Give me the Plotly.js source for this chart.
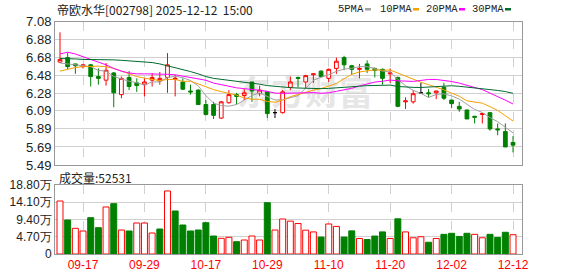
<!DOCTYPE html>
<html>
<head>
<meta charset="utf-8">
<script src="https://cdn.plot.ly/plotly-3.0.1.min.js"></script>
<style>
html,body{margin:0;padding:0;background:#fff;}
#chart{width:578px;height:276px;}
</style>
</head>
<body>
<div id="chart"></div>
<script>
// ---- data ----
const dates = ['09-12','09-15','09-16','09-17','09-18','09-19','09-22','09-23','09-24','09-25','09-26','09-29','09-30',
  '10-09','10-10','10-13','10-14','10-15','10-16','10-17','10-20','10-21','10-22','10-23','10-24','10-27','10-28','10-29','10-30','10-31',
  '11-03','11-04','11-05','11-06','11-07','11-10','11-11','11-12','11-13','11-14','11-17','11-18','11-19','11-20','11-21','11-24','11-25','11-26','11-27','11-28',
  '12-01','12-02','12-03','12-04','12-05','12-08','12-09','12-10','12-11','12-12'];

const open  = [6.63,6.68,6.61,6.58,6.60,6.47,6.43,6.51,6.27,6.46,6.40,6.38,6.43,6.42,6.46,6.44,6.41,6.31,6.32,6.16,
               6.16,6.01,6.18,6.27,6.26,6.41,6.28,6.30,6.07,6.07,6.35,6.46,6.41,6.49,6.53,6.45,6.56,6.68,6.59,6.55,
               6.61,6.56,6.55,6.50,6.46,6.19,6.19,6.29,6.29,6.29,6.35,6.21,6.14,6.10,6.03,6.05,6.07,5.89,5.86,5.74];
const high  = [6.96,6.73,6.61,6.61,6.61,6.56,6.62,6.52,6.47,6.53,6.45,6.45,6.51,6.52,6.73,6.49,6.45,6.38,6.33,6.21,
               6.19,6.20,6.32,6.29,6.33,6.41,6.37,6.31,6.11,6.32,6.47,6.47,6.49,6.50,6.54,6.56,6.68,6.70,6.60,6.61,
               6.65,6.57,6.56,6.56,6.47,6.24,6.32,6.40,6.33,6.31,6.40,6.21,6.19,6.10,6.03,6.06,6.07,5.95,5.95,5.81];
const low   = [6.62,6.55,6.50,6.56,6.36,6.38,6.37,6.13,6.23,6.32,6.30,6.25,6.36,6.38,6.29,6.25,6.32,6.27,6.155,6.04,
               6.00,6.00,6.17,6.16,6.21,6.19,6.25,6.01,6.01,6.06,6.32,6.35,6.34,6.40,6.46,6.41,6.50,6.54,6.49,6.45,
               6.51,6.46,6.38,6.40,6.13,6.11,6.17,6.28,6.24,6.22,6.21,6.12,6.08,6.00,5.95,5.95,5.87,5.82,5.69,5.63];
const close = [6.66,6.58,6.59,6.60,6.47,6.45,6.54,6.29,6.45,6.36,6.37,6.41,6.46,6.45,6.60,6.45,6.33,6.30,6.16,6.05,
               6.04,6.19,6.27,6.25,6.29,6.31,6.32,6.06,6.07,6.30,6.41,6.45,6.48,6.50,6.47,6.55,6.64,6.60,6.55,6.56,
               6.55,6.54,6.45,6.51,6.14,6.20,6.28,6.29,6.28,6.31,6.23,6.17,6.11,6.00,6.02,6.06,5.89,5.88,5.69,5.71];
const volume = [144400,92650,70000,62700,98900,71700,128100,137100,65400,62700,84500,84500,57200,68100,171700,117200,79000,62700,65400,85300,
               49000,42800,45500,33500,38150,49000,38150,139800,65400,95400,89500,83000,64900,60200,46100,81800,75200,46100,63000,42300,
               39500,48900,60200,42300,95900,60200,44200,47000,32000,42300,53600,56400,47900,56400,53600,44200,53600,45100,59200,52531];

const ma5  = [6.62,6.61,6.60,6.59,6.580,6.538,6.530,6.470,6.440,6.418,6.402,6.376,6.410,6.410,6.458,6.474,6.458,6.426,6.368,6.258,
              6.176,6.148,6.142,6.160,6.208,6.262,6.288,6.246,6.210,6.212,6.232,6.258,6.342,6.428,6.462,6.490,6.528,6.552,6.562,6.580,
              6.580,6.560,6.530,6.522,6.438,6.368,6.316,6.284,6.238,6.272,6.278,6.256,6.220,6.164,6.106,6.072,6.016,5.970,5.908,5.846];
const ma10 = [6.53,6.55,6.57,6.58,6.585,6.585,6.58,6.56,6.53,6.499,6.470,6.453,6.440,6.425,6.438,6.438,6.417,6.418,6.389,6.358,
              6.325,6.303,6.284,6.264,6.233,6.219,6.218,6.194,6.185,6.210,6.247,6.273,6.294,6.319,6.337,6.361,6.393,6.447,6.495,6.521,
              6.535,6.544,6.541,6.542,6.509,6.474,6.438,6.407,6.380,6.355,6.323,6.286,6.252,6.201,6.189,6.175,6.136,6.095,6.036,5.976];
const ma20 = [6.72,6.74,6.72,6.69,6.66,6.63,6.60,6.56,6.53,6.51,6.50,6.50,6.50,6.50,6.495,6.49,6.475,6.46,6.445,6.429,
              6.398,6.378,6.362,6.345,6.336,6.329,6.318,6.306,6.287,6.284,6.286,6.288,6.289,6.292,6.285,6.290,6.306,6.321,6.340,6.366,
              6.391,6.409,6.418,6.431,6.423,6.418,6.416,6.427,6.438,6.438,6.429,6.415,6.397,6.372,6.349,6.325,6.287,6.251,6.208,6.166];
const ma30 = [6.67,6.67,6.665,6.66,6.66,6.66,6.66,6.655,6.65,6.645,6.64,6.635,6.625,6.61,6.59,6.57,6.55,6.525,6.50,6.47,
              6.45,6.44,6.43,6.42,6.41,6.40,6.385,6.37,6.36,6.356,6.347,6.343,6.339,6.336,6.336,6.339,6.343,6.353,6.356,6.363,
              6.369,6.373,6.373,6.375,6.360,6.351,6.350,6.349,6.353,6.362,6.368,6.368,6.362,6.354,6.345,6.337,6.322,6.316,6.304,6.284];

const tickDates = ['09-17','09-29','10-17','10-29','11-10','11-20','12-02','12-12'];
const priceTicks = [5.49,5.69,5.89,6.09,6.28,6.48,6.68,6.88,7.08];
const priceTickText = ['5.49','5.69','5.89','6.09','6.28','6.48','6.68','6.88','7.08'];
const volTicks = [0,47000,94000,141000,188000];
const volTickText = ['0','4.70万','9.40万','14.10万','18.80万'];
const maNames = ['5PMA','10PMA','20PMA','30PMA'];
const stockTitle = '帝欧水华[002798] 2025-12-12  15:00';
const lastVolumeLabel = '成交量:52531';
const watermark = '东方财富';

// ---- styles ----
const RED = '#ff0000', GREEN = '#008000';
const maColors = ['#a0a0a0','#f5a000','#ff00ff','#006a2e'];

function pick(arr, idx){ return idx.map(i => arr[i]); }
const all = dates.map((_, i) => i);
const upIdx = all.filter(i => close[i] > open[i]);
const dnIdx = all.filter(i => close[i] < open[i]);
const flIdx = all.filter(i => close[i] === open[i]);

function candle(idx, incColor, incFill, decColor, decFill){
  return {
    type:'candlestick', xaxis:'x2', yaxis:'y2',
    x: pick(dates, idx), open: pick(open, idx), high: pick(high, idx), low: pick(low, idx), close: pick(close, idx),
    increasing:{line:{color:incColor, width:1}, fillcolor:incFill},
    decreasing:{line:{color:decColor, width:1}, fillcolor:decFill},
    whiskerwidth:0, hoverinfo:'skip', showlegend:false
  };
}

const traces = [];
const maArr = [ma5, ma10, ma20, ma30];
maArr.forEach((m, k) => traces.push({
  type:'scatter', mode:'lines', x:dates, y:m, xaxis:'x2', yaxis:'y2',
  line:{color:maColors[k], width:1}, hoverinfo:'skip', showlegend:false
}));
traces.push(candle(upIdx, RED, '#ffffff', RED, '#ffffff'));
traces.push(candle(dnIdx, GREEN, GREEN, GREEN, GREEN));
traces.push(candle(flIdx, '#000000', '#000000', '#000000', '#000000'));

const volUp = close.map((c, i) => i === 0 || c >= close[i-1]);
traces.push({
  type:'bar', x:dates, y:volume, xaxis:'x', yaxis:'y',
  marker:{color: volUp.map(u => u ? '#ffffff' : GREEN), line:{color: volUp.map(u => u ? RED : GREEN), width:1}},
  hoverinfo:'skip', showlegend:false
});

// ---- layout geometry (pixels -> paper) ----
const W = 578, H = 276, ML = 55, MR = 56, MT = 21, MB = 22;
const PW = W - ML - MR, PH = H - MT - MB;
const px = x => (x - ML) / PW;
const py = y => 1 - (y - MT) / PH;
const xr = [-0.65, dates.length - 1 + 1.17];

const gridC = '#d0d0d0', borderC = '#999999';
const baseX = {
  type:'category', categoryorder:'array', categoryarray:dates, range:xr,
  showgrid:true, gridcolor:gridC, griddash:'dash', gridwidth:1,
  showline:true, mirror:true, linecolor:borderC, linewidth:1,
  ticks:'', tickvals:tickDates, ticktext:tickDates, zeroline:false,
  rangeslider:{visible:false}, fixedrange:true
};

const annFont = {family:'"Noto Sans CJK SC", sans-serif', size:12, color:'#222'};
const annotations = [
  {xref:'paper', yref:'paper', x:px(55), y:py(9), xanchor:'left', yanchor:'middle', showarrow:false,
   text:stockTitle, font:annFont},
  {xref:'paper', yref:'paper', x:px(57), y:py(177), xanchor:'left', yanchor:'middle', showarrow:false,
   text:lastVolumeLabel, font:annFont}
];
const legendX = [336, 378, 424, 470];
const swatchX = [365, 413, 459, 505];
const shapes = [];
maNames.forEach((n, k) => {
  annotations.push({xref:'paper', yref:'paper', x:px(legendX[k]), y:py(9), xanchor:'left', yanchor:'middle', showarrow:false,
    text:n, font:{family:'"Liberation Mono", monospace', size:10.5, color:'#222'}});
  shapes.push({type:'rect', xref:'paper', yref:'paper', x0:px(swatchX[k]), x1:px(swatchX[k]+6), y0:py(10.5), y1:py(8),
    line:{width:0}, fillcolor:maColors[k]});
});
shapes.push({type:'rect', xref:'paper', yref:'paper', x0:px(215), x1:px(395), y0:py(115), y1:py(75),
  line:{width:0}, fillcolor:'rgba(0,0,0,0)', layer:'below',
  label:{text:watermark, textposition:'middle center',
    font:{family:'"Noto Sans CJK SC", sans-serif', size:34, color:'#e6e6e6', weight:'bold'}}});

const layout = {
  width:W, height:H, margin:{l:ML, r:MR, t:MT, b:MB, pad:0},
  paper_bgcolor:'#ffffff', plot_bgcolor:'#ffffff', showlegend:false,
  font:{family:'"Liberation Sans", Arial, sans-serif', size:12, color:'#222'},
  bargap:0.22, dragmode:false, hovermode:false,
  xaxis:Object.assign({}, baseX, {anchor:'y', tickfont:{color:RED, size:12, family:'"Liberation Sans", Arial, sans-serif'}}),
  xaxis2:Object.assign({}, baseX, {anchor:'y2', showticklabels:false}),
  yaxis:{domain:[0, py(185)], range:[0, 188000], tickvals:volTicks, ticktext:volTickText,
    showgrid:true, gridcolor:gridC, zeroline:false, showline:true, mirror:true, linecolor:borderC,
    ticks:'', tickfont:{size:12, color:'#222', family:'"Liberation Sans", Arial, sans-serif'}, fixedrange:true},
  yaxis2:{domain:[py(165), py(21.5)], range:[5.49, 7.08], tickvals:priceTicks, ticktext:priceTickText,
    showgrid:true, gridcolor:gridC, zeroline:false, showline:true, mirror:true, linecolor:borderC,
    ticks:'', tickfont:{size:13, color:'#222', family:'"Liberation Sans", Arial, sans-serif'}, fixedrange:true},
  annotations:annotations, shapes:shapes
};

Plotly.newPlot('chart', traces, layout, {staticPlot:true, displayModeBar:false});
</script>
</body>
</html>
